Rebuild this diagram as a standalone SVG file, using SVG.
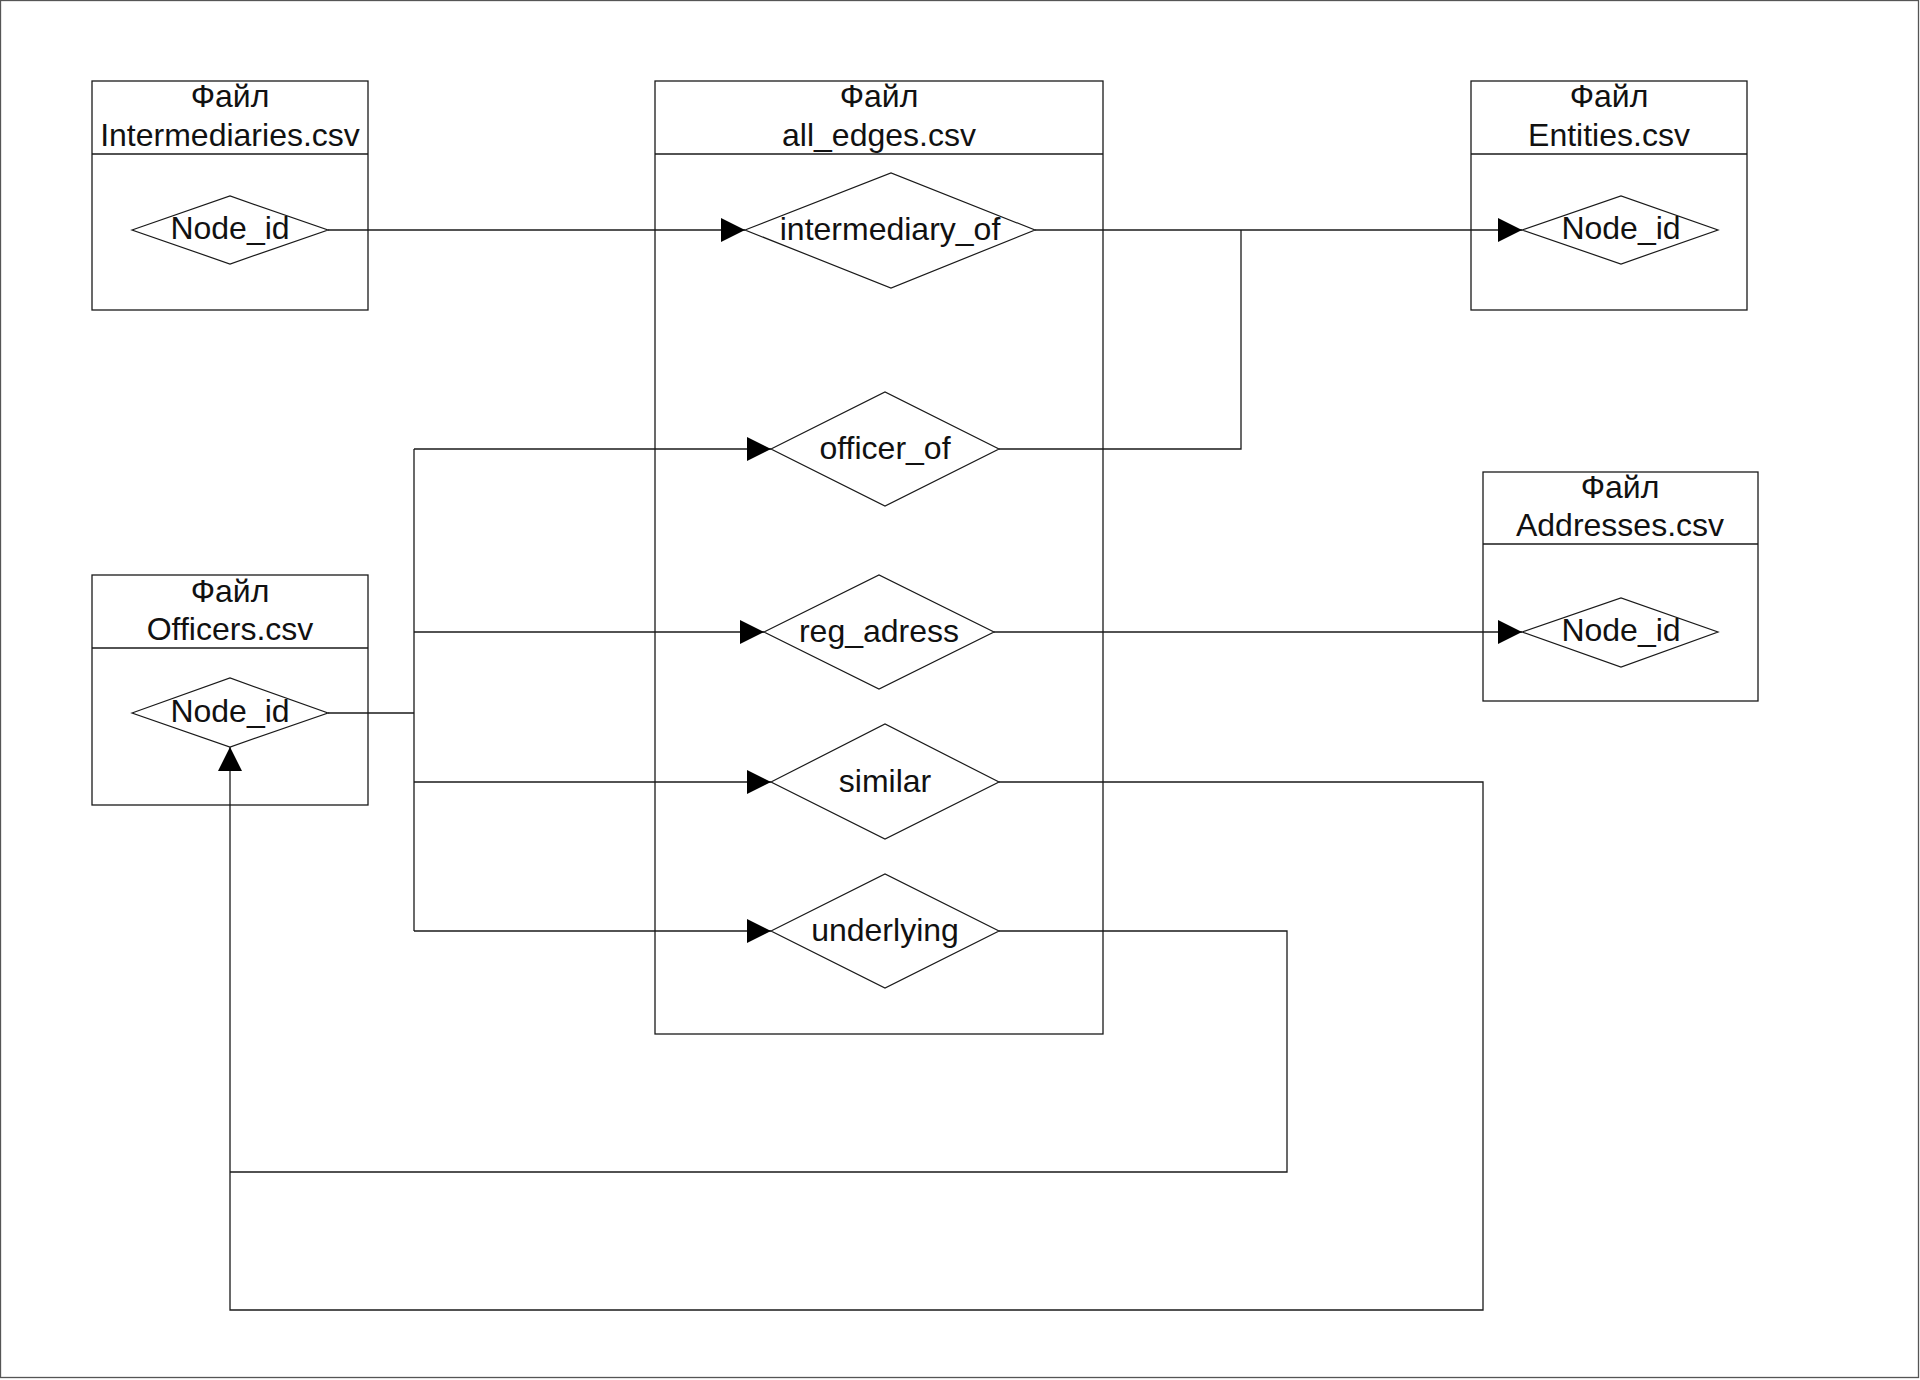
<svg xmlns="http://www.w3.org/2000/svg" width="1920" height="1380" viewBox="0 0 1920 1380">
<style>
.box{fill:#fff;stroke:#1a1a1a;stroke-width:1.3}
.dia{fill:#fff;stroke:#1a1a1a;stroke-width:1.2}
.ln{fill:none;stroke:#1a1a1a;stroke-width:1.3}
text{font-family:"Liberation Sans",Arial,sans-serif;font-size:32px;fill:#111;text-anchor:middle}
</style>
<defs>
<marker id="arr" markerUnits="userSpaceOnUse" markerWidth="24" markerHeight="24" refX="22" refY="11" orient="auto" viewBox="0 0 22 22">
<path d="M0,0 L22,11 L0,22 Z" fill="#000"/>
</marker>
</defs>
<rect x="0" y="0" width="1920" height="1380" fill="#fff"/>
<rect x="0.5" y="0.5" width="1918" height="1377" fill="none" stroke="#555" stroke-width="1.3"/>

<g id="intermediaries">
<rect class="box" x="92" y="81" width="276" height="229"/>
<line class="ln" x1="92" y1="154" x2="368" y2="154"/>
<text x="230" y="107">Файл</text>
<text x="230" y="146">Intermediaries.csv</text>
<polygon class="dia" points="132,230 230,196 328,230 230,264"/>
<text x="230" y="239">Node_id</text>
</g>

<g id="all_edges">
<rect class="box" x="655" y="81" width="448" height="953"/>
<line class="ln" x1="655" y1="154" x2="1103" y2="154"/>
<text x="879" y="107">Файл</text>
<text x="879" y="146">all_edges.csv</text>
<g id="intermediary_of">
<polygon class="dia" points="745,230 891,173 1035,230 891,288"/>
<text x="890" y="240">intermediary_of</text>
</g>
<g id="officer_of">
<polygon class="dia" points="771,449 885,392 999,449 885,506"/>
<text x="885" y="459">officer_of</text>
</g>
<g id="reg_adress">
<polygon class="dia" points="764,632 879,575 994,632 879,689"/>
<text x="879" y="642">reg_adress</text>
</g>
<g id="similar">
<polygon class="dia" points="771,782 885,724 999,782 885,839"/>
<text x="885" y="792">similar</text>
</g>
<g id="underlying">
<polygon class="dia" points="771,931 885,874 999,931 885,988"/>
<text x="885" y="941">underlying</text>
</g>
</g>

<g id="entities">
<rect class="box" x="1471" y="81" width="276" height="229"/>
<line class="ln" x1="1471" y1="154" x2="1747" y2="154"/>
<text x="1609" y="107">Файл</text>
<text x="1609" y="146">Entities.csv</text>
<polygon class="dia" points="1522,230 1621,196 1718,230 1621,264"/>
<text x="1621" y="239">Node_id</text>
</g>

<g id="addresses">
<rect class="box" x="1483" y="472" width="275" height="229"/>
<line class="ln" x1="1483" y1="544" x2="1758" y2="544"/>
<text x="1620" y="498">Файл</text>
<text x="1620" y="536">Addresses.csv</text>
<polygon class="dia" points="1522,632 1621,598 1718,632 1621,667"/>
<text x="1621" y="641">Node_id</text>
</g>

<g id="officers">
<rect class="box" x="92" y="575" width="276" height="230"/>
<line class="ln" x1="92" y1="648" x2="368" y2="648"/>
<text x="230" y="602">Файл</text>
<text x="230" y="640">Officers.csv</text>
<polygon class="dia" points="132,713 230,678 328,713 230,747"/>
<text x="230" y="722">Node_id</text>
</g>

<g id="connectors">
<path class="ln" d="M328,230 H745" marker-end="url(#arr)"/>
<path class="ln" d="M1035,230 H1522" marker-end="url(#arr)"/>
<path class="ln" d="M999,449 H1241 V230"/>
<path class="ln" d="M328,713 H414"/>
<path class="ln" d="M414,449 V931"/>
<path class="ln" d="M414,449 H771" marker-end="url(#arr)"/>
<path class="ln" d="M414,632 H764" marker-end="url(#arr)"/>
<path class="ln" d="M414,782 H771" marker-end="url(#arr)"/>
<path class="ln" d="M414,931 H771" marker-end="url(#arr)"/>
<path class="ln" d="M994,632 H1522" marker-end="url(#arr)"/>
<path class="ln" d="M999,782 H1483 V1310 H230 V747" marker-end="url(#arr)"/>
<path class="ln" d="M999,931 H1287 V1172 H230"/>
</g>
</svg>
